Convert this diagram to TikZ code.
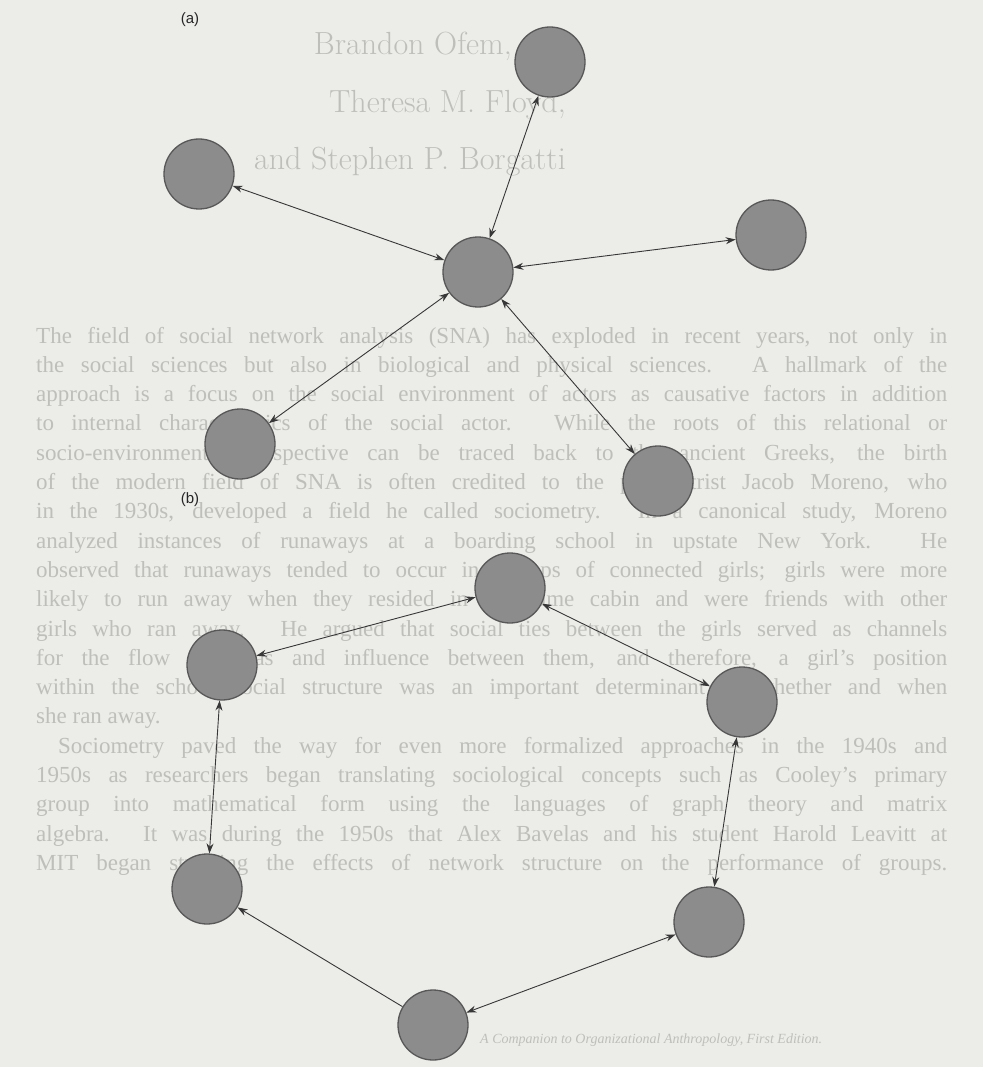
\documentclass[tikz,border=0pt]{standalone}
\usepackage{fontspec}
\newfontfamily\bodyfont{Liberation Serif}
\newfontfamily\labfont{Liberation Sans}
\usetikzlibrary{arrows.meta}
\definecolor{bgc}{RGB}{236,236,233}
\definecolor{ghost}{RGB}{190,190,187}
\definecolor{nodefill}{RGB}{140,140,140}
\definecolor{nodeline}{RGB}{88,88,88}
\definecolor{linec}{RGB}{55,55,55}
\newcommand{\jline}[1]{\hbox to 911pt{#1}}
\tikzset{
  netnode/.style={circle, minimum size=70pt, inner sep=0pt, fill=nodefill, draw=nodeline, line width=1.3pt},
  biarrow/.style={{Stealth[length=10pt,width=7pt]}-{Stealth[length=10pt,width=7pt]}, line width=0.9pt, draw=linec},
  oneway/.style={-{Stealth[length=10pt,width=7pt]}, line width=0.9pt, draw=linec},
  ghostline/.style={anchor=base west, inner sep=0pt, text=ghost, font=\bodyfont\fontsize{23}{28}\selectfont},
  ghosttitle/.style={anchor=base east, inner sep=0pt, text=ghost, font=\fontsize{32}{36}\selectfont},
  panellabel/.style={inner sep=0pt, text=black!85, font=\labfont\fontsize{15}{18}\selectfont}
}
\begin{document}
\begin{tikzpicture}[x=1pt,y=-1pt]
\fill[bgc] (0,0) rectangle (983,1067);
\useasboundingbox (0,0) rectangle (983,1067);
% faint show-through text
\node[ghosttitle] (ti1) at (512,55) {Brandon Ofem,};
\node[ghosttitle] (ti2) at (566,113) {Theresa M. Floyd,};
\node[ghosttitle] (ti3) at (566,170) {and Stephen P. Borgatti};
\node[ghostline] (t1) at (36,343) {\jline{The field of social network analysis (SNA) has exploded in recent years, not only in}};
\node[ghostline] (t2) at (36,372.3) {\jline{the social sciences but also in biological and physical sciences. A hallmark of the}};
\node[ghostline] (t3) at (36,401.6) {\jline{approach is a focus on the social environment of actors as causative factors in addition}};
\node[ghostline] (t4) at (36,430.9) {\jline{to internal characteristics of the social actor. While the roots of this relational or}};
\node[ghostline] (t5) at (36,460.2) {\jline{socio-environmental perspective can be traced back to the ancient Greeks, the birth}};
\node[ghostline] (t6) at (36,489.5) {\jline{of the modern field of SNA is often credited to the psychiatrist Jacob Moreno, who}};
\node[ghostline] (t7) at (36,518.8) {\jline{in the 1930s, developed a field he called sociometry. In a canonical study, Moreno}};
\node[ghostline] (t8) at (36,548.1) {\jline{analyzed instances of runaways at a boarding school in upstate New York. He}};
\node[ghostline] (t9) at (36,577.4) {\jline{observed that runaways tended to occur in clumps of connected girls; girls were more}};
\node[ghostline] (t10) at (36,606.7) {\jline{likely to run away when they resided in the same cabin and were friends with other}};
\node[ghostline] (t11) at (36,636) {\jline{girls who ran away. He argued that social ties between the girls served as channels}};
\node[ghostline] (t12) at (36,665.3) {\jline{for the flow of ideas and influence between them, and therefore, a girl’s position}};
\node[ghostline] (t13) at (36,694.6) {\jline{within the school social structure was an important determinant of whether and when}};
\node[ghostline] (t14) at (36,723.9) {she ran away.};
\node[ghostline] (t15) at (58,753.2) {\hbox to 889pt{Sociometry paved the way for even more formalized approaches in the 1940s and}};
\node[ghostline] (t16) at (36,782.5) {\jline{1950s as researchers began translating sociological concepts such as Cooley’s primary}};
\node[ghostline] (t17) at (36,811.8) {\jline{group into mathematical form using the languages of graph theory and matrix}};
\node[ghostline] (t18) at (36,841.1) {\jline{algebra. It was during the 1950s that Alex Bavelas and his student Harold Leavitt at}};
\node[ghostline] (t19) at (36,870.4) {\jline{MIT began studying the effects of network structure on the performance of groups.}};
\node[ghostline, font=\bodyfont\itshape\fontsize{14}{16}\selectfont] (fn) at (480,1043) {A Companion to Organizational Anthropology, First Edition.};
% panel labels
\node[panellabel] (la) at (190,20) {(a)};
\node[panellabel] (lb) at (190,500) {(b)};
% panel (a): star
\node[netnode] (A0) at (478,272) {};
\node[netnode] (A1) at (550,62) {};
\node[netnode] (A2) at (199,174) {};
\node[netnode] (A3) at (771,235) {};
\node[netnode] (A4) at (240,444) {};
\node[netnode] (A5) at (658,481) {};
\draw[biarrow] (A0) -- (A1);
\draw[biarrow] (A0) -- (A2);
\draw[biarrow] (A0) -- (A3);
\draw[biarrow] (A0) -- (A4);
\draw[biarrow] (A0) -- (A5);
% panel (b): circle
\node[netnode] (B1) at (510,588) {};
\node[netnode] (B2) at (222,665) {};
\node[netnode] (B3) at (742,702) {};
\node[netnode] (B4) at (207,889) {};
\node[netnode] (B5) at (709,922) {};
\node[netnode] (B6) at (433,1025) {};
\draw[biarrow] (B1) -- (B2);
\draw[biarrow] (B1) -- (B3);
\draw[biarrow] (B2) -- (B4);
\draw[biarrow] (B3) -- (B5);
\draw[biarrow] (B6) -- (B5);
\draw[oneway] (B6) -- (B4);
\end{tikzpicture}
\end{document}
